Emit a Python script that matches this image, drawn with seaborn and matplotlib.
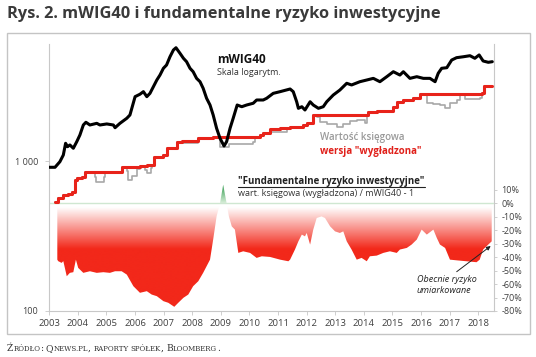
import numpy as np
import pandas as pd
import matplotlib
matplotlib.use("Agg")
import matplotlib.pyplot as plt
import seaborn as sns
from matplotlib.path import Path
from matplotlib.patches import Rectangle
from matplotlib.lines import Line2D
from matplotlib.colors import to_rgb

# ---------------- data ----------------
title = "Rys. 2. mWIG40 i fundamentalne ryzyko inwestycyjne"

wig_years = [2003.00, 2003.20, 2003.37, 2003.49, 2003.57, 2003.64, 2003.72, 2003.84, 2003.96,
             2004.07, 2004.19, 2004.28, 2004.42, 2004.66, 2004.77, 2005.01, 2005.24, 2005.30,
             2005.47, 2005.71, 2005.82, 2006.00, 2006.17, 2006.29, 2006.41, 2006.52, 2006.76,
             2006.87, 2006.99, 2007.10, 2007.22, 2007.34, 2007.43, 2007.57, 2007.69, 2007.80,
             2007.92, 2008.03, 2008.15, 2008.27, 2008.38, 2008.50, 2008.62, 2008.73, 2008.85,
             2008.97, 2009.11, 2009.20, 2009.32, 2009.43, 2009.57, 2009.73, 2009.90, 2010.13,
             2010.25, 2010.48, 2010.60, 2010.83, 2011.07, 2011.42, 2011.53, 2011.65, 2011.71,
             2011.83, 2011.94, 2012.12, 2012.23, 2012.41, 2012.58, 2012.70, 2012.93, 2013.16,
             2013.40, 2013.57, 2013.86, 2014.10, 2014.33, 2014.56, 2014.80, 2015.03, 2015.26,
             2015.38, 2015.61, 2015.85, 2016.08, 2016.31, 2016.49, 2016.60, 2016.72, 2016.90,
             2017.07, 2017.24, 2017.48, 2017.71, 2017.88, 2018.03, 2018.17, 2018.35, 2018.49]
wig_values = [908, 908, 989, 1096, 1312, 1246, 1279, 1216, 1345,
              1490, 1738, 1812, 1738, 1783, 1738, 1766, 1738, 1667,
              1783, 1927, 2027, 2685, 2787, 2899, 2685, 2825, 3467,
              3741, 4150, 4365, 4955, 5495, 5690, 5224, 4839, 4592,
              4150, 3938, 3556, 3378, 3053, 2618, 2362, 2027, 1652,
              1416, 1259, 1345, 1652, 1927, 2362, 2301, 2362, 2426,
              2551, 2551, 2618, 2825, 2899, 3020, 2899, 2483, 2245,
              2301, 2188, 2483, 2362, 2245, 2301, 2483, 2754, 2972,
              3296, 3213, 3378, 3467, 3556, 3378, 3648, 3938, 3741,
              3938, 3556, 3648, 3556, 3556, 3378, 3845, 4150, 4188,
              4710, 4884, 4955, 5035, 4839, 5093, 4642, 4550, 4592]

smooth_years = [2003.20, 2003.31, 2003.49, 2003.66, 2003.78, 2003.90, 2003.96, 2004.13, 2004.25,
                2005.53, 2006.17, 2006.40, 2006.66, 2006.99, 2007.10, 2007.45, 2007.63, 2008.21,
                2008.73, 2010.37, 2010.48, 2010.72, 2011.07, 2011.42, 2011.88, 2012.00, 2012.21,
                2014.15, 2014.45, 2015.03, 2015.15, 2015.38, 2015.73, 2015.96, 2018.12, 2018.20,
                2018.49]
smooth_values = [535, 564, 593, 599, 624, 747, 767, 785, 841,
                 916, 926, 940, 1068, 1096, 1216, 1333, 1359, 1430,
                 1452, 1491, 1530, 1634, 1652, 1693, 1738, 1783, 2027,
                 2112, 2154, 2301, 2483, 2551, 2642, 2787, 2825, 3177,
                 3177]

book_years = [2003.20, 2003.31, 2003.49, 2003.66, 2003.78, 2003.90, 2003.96, 2004.13, 2004.25,
              2004.60, 2004.64, 2004.90, 2004.95, 2005.53, 2005.71, 2005.76, 2005.90, 2006.05,
              2006.17, 2006.35, 2006.40, 2006.55, 2006.60, 2006.66, 2006.99, 2007.10, 2007.45,
              2007.63, 2008.21, 2008.73, 2008.97, 2009.30, 2010.13, 2010.20, 2010.37, 2010.48,
              2010.72, 2011.30, 2011.42, 2011.88, 2012.00, 2012.21, 2012.35, 2012.47, 2012.70,
              2013.05, 2013.28, 2013.51, 2013.75, 2014.04, 2014.10, 2014.15, 2014.45, 2015.03,
              2015.15, 2015.38, 2015.73, 2015.96, 2016.14, 2016.20, 2016.43, 2016.66, 2016.84,
              2017.01, 2017.24, 2017.36, 2017.55, 2018.05, 2018.12, 2018.20, 2018.49]
book_values = [535, 564, 593, 599, 624, 747, 767, 785, 841,
               780, 728, 780, 841, 916, 860, 747, 800, 880,
               926, 870, 828, 900, 940, 1068, 1096, 1216, 1333,
               1312, 1430, 1452, 1246, 1292, 1333, 1452, 1491, 1530,
               1570, 1652, 1693, 1738, 1783, 2027, 1973, 1812, 1757,
               1693, 1757, 1848, 1877, 1783, 2027, 2112, 2154, 2301,
               2483, 2551, 2642, 2787, 2754, 2426, 2389, 2362, 2265,
               2426, 2551, 2787, 2588, 2618, 2825, 3177, 3177]

risk_years = [2003.28, 2003.31, 2003.43, 2003.49, 2003.61, 2003.72, 2003.84, 2003.93, 2004.01,
              2004.19, 2004.42, 2004.66, 2004.89, 2005.12, 2005.30, 2005.53, 2005.71, 2005.94,
              2006.17, 2006.41, 2006.58, 2006.76, 2006.99, 2007.16, 2007.37, 2007.51, 2007.69,
              2007.86, 2008.03, 2008.21, 2008.38, 2008.62, 2008.73, 2008.85, 2008.97, 2009.08,
              2009.20, 2009.28, 2009.38, 2009.49, 2009.61, 2009.78, 2010.02, 2010.25, 2010.43,
              2010.72, 2011.07, 2011.36, 2011.42, 2011.59, 2011.71, 2011.83, 2011.94, 2012.00,
              2012.12, 2012.23, 2012.35, 2012.52, 2012.64, 2012.82, 2012.99, 2013.16, 2013.28,
              2013.40, 2013.57, 2013.75, 2013.92, 2014.10, 2014.21, 2014.45, 2014.68, 2014.91,
              2015.15, 2015.26, 2015.50, 2015.67, 2015.85, 2016.02, 2016.20, 2016.43, 2016.55,
              2016.66, 2016.84, 2017.01, 2017.24, 2017.59, 2017.94, 2018.05, 2018.17, 2018.35,
              2018.47]
risk_pct = [-41.9, -43.0, -44.3, -43.0, -54.2, -51.7, -51.2, -41.9, -48.0,
            -51.7, -50.5, -51.7, -51.2, -51.7, -50.5, -50.5, -53.0, -61.6,
            -66.5, -65.3, -67.8, -69.0, -72.7, -73.9, -76.9, -73.9, -70.2,
            -67.8, -61.6, -57.9, -51.7, -41.9, -27.0, -9.8, 0.0, 13.7,
            0.0, -9.8, -17.2, -19.6, -36.9, -35.7, -36.9, -40.6, -39.4,
            -39.9, -41.9, -43.1, -41.9, -34.4, -28.3, -23.3, -24.6, -22.1,
            -30.7, -19.6, -11.0, -9.8, -11.0, -17.2, -20.9, -22.1, -20.9,
            -28.3, -34.4, -41.9, -40.6, -43.1, -39.4, -38.9, -36.9, -35.7,
            -36.9, -34.4, -33.2, -30.7, -27.0, -19.6, -23.3, -19.6, -25.8,
            -30.7, -33.2, -41.9, -42.4, -43.1, -43.8, -41.9, -34.4, -30.7,
            -28.3]

year_ticks = list(range(2003, 2019))
left_ticks = [100, 1000]
left_labels = ["100", "1 000"]
right_ticks = [-80, -70, -60, -50, -40, -30, -20, -10, 0, 10]

# ---------------- styling ----------------
sns.set_theme(style="white")
plt.rcParams["font.family"] = ["Open Sans", "DejaVu Sans"]

W, H = 536, 357
fig = plt.figure(figsize=(W / 100, H / 100), dpi=100)
fig.patch.set_facecolor("white")


def fx(x):
    return x / W


def fy(y):
    return 1 - y / H


ax_l, ax_r, ax_t, ax_b = 49.3, 494, 44, 311
ax = fig.add_axes([fx(ax_l), fy(ax_b), fx(ax_r - ax_l), (ax_b - ax_t) / H])
ax2 = ax.twinx()
ax.set_zorder(2)
ax2.set_zorder(1)
ax.patch.set_visible(False)

XMIN, XMAX = 2003.0, 2018.55
grey_sp = "#c8c8c8"
tick_col = "#404040"

# ---- risk area (right axis) ----
rx = np.array(risk_years)
ry = np.array(risk_pct) / 100.0
neg = ax2.fill_between(rx, ry, 0, where=ry <= 0, interpolate=True,
                       facecolor="none", edgecolor="none")
pos = ax2.fill_between(rx, 0, ry, where=ry >= 0, interpolate=True,
                       facecolor="none", edgecolor="none")

yy = np.linspace(-0.8, 0, 400)
t = np.clip((yy + 0.34) / 0.31, 0, 1)
red = np.array(to_rgb("#f2281a"))
img = red[None, :] * (1 - t[:, None]) + np.ones(3)[None, :] * t[:, None]
im = ax2.imshow(img[:, None, :], extent=[XMIN, XMAX, -0.8, 0], origin="lower",
                aspect="auto", interpolation="bilinear", zorder=1)
im.set_clip_path(Path.make_compound_path(*neg.get_paths()), ax2.transData)

yg = np.linspace(0, 0.15, 200)
tg = np.clip(yg / 0.13, 0, 1)
g0 = np.array(to_rgb("#d8eed9"))
g1 = np.array(to_rgb("#2f9a4c"))
imgg = g0[None, :] * (1 - tg[:, None]) + g1[None, :] * tg[:, None]
img2 = ax2.imshow(imgg[:, None, :], extent=[XMIN, XMAX, 0, 0.15], origin="lower",
                  aspect="auto", interpolation="bilinear", zorder=1)
img2.set_clip_path(Path.make_compound_path(*pos.get_paths()), ax2.transData)

ax2.axhline(0, color="#cfe7d1", lw=1.0, zorder=3)
ax2.set_xlim(XMIN, XMAX)
ax2.set_ylim(-0.8, 1.181)
ax2.set_yticks([v / 100 for v in right_ticks])
ax2.set_yticklabels([f"{v}%" for v in right_ticks])
ax2.tick_params(axis="y", which="both", right=True, length=2.5, width=0.6, color=grey_sp,
                labelsize=6.5, labelcolor=tick_col, pad=3, direction="out")
for s in ["top", "left", "bottom"]:
    ax2.spines[s].set_visible(False)
ax2.spines["right"].set_color(grey_sp)
ax2.spines["right"].set_linewidth(0.8)
ax2.grid(False)
ax2.set_ylabel("")

# ---- index lines (left log axis) ----
ax.set_yscale("log")
book_df = pd.DataFrame({"year": book_years, "value": book_values})
smooth_df = pd.DataFrame({"year": smooth_years, "value": smooth_values})
wig_df = pd.DataFrame({"year": wig_years, "value": wig_values})
sns.lineplot(data=book_df, x="year", y="value", ax=ax, color="#a8a8a8", linewidth=1.2,
             drawstyle="steps-post", estimator=None, sort=False, zorder=2)
sns.lineplot(data=smooth_df, x="year", y="value", ax=ax, color="#e8231a", linewidth=2.2,
             drawstyle="steps-post", estimator=None, sort=False, zorder=3)
sns.lineplot(data=wig_df, x="year", y="value", ax=ax, color="#000000", linewidth=2.2,
             estimator=None, sort=False, zorder=4)

ax.set_xlim(XMIN, XMAX)
ax.set_ylim(100, 10 ** (3 + 117 / 150))
ax.set_yticks(left_ticks)
ax.set_yticklabels(left_labels)
ax.yaxis.set_minor_locator(matplotlib.ticker.NullLocator())
ax.set_xticks(year_ticks)
ax.set_xticklabels([str(y) for y in year_ticks])
ax.tick_params(axis="y", which="both", left=True, length=3, width=0.6, color=grey_sp,
               labelsize=6.5, labelcolor=tick_col, pad=5)
ax.tick_params(axis="x", bottom=True, length=3, width=0.6, color=grey_sp,
               labelsize=6.8, labelcolor=tick_col, pad=3)
for s in ["top", "right"]:
    ax.spines[s].set_visible(False)
for s in ["left", "bottom"]:
    ax.spines[s].set_color(grey_sp)
    ax.spines[s].set_linewidth(0.8)
ax.grid(False)
ax.set_xlabel("")
ax.set_ylabel("")

# ---------------- texts ----------------
fig.text(fx(7), fy(14), title, fontsize=11.8, fontweight="bold", color="#3a3a3a",
         va="center", ha="left")

fig.text(fx(216.7), fy(59.5), "mWIG40", fontsize=8.5, fontweight="bold", color="#111111",
         va="center", ha="left")
fig.text(fx(216.7), fy(72.7), "Skala logarytm.", fontsize=6.5, color="#333333",
         va="center", ha="left")
fig.text(fx(320), fy(138), "Wartość księgowa", fontsize=7.0, fontweight="semibold",
         color="#9a9a9a", va="center", ha="left")
fig.text(fx(320), fy(151), 'wersja "wygładzona"', fontsize=7.0, fontweight="bold",
         color="#e0201a", va="center", ha="left")
t_head = fig.text(fx(238.3), fy(181.7), '"Fundamentalne ryzyko inwestycyjne"', fontsize=7,
                  fontweight="bold", color="#222222", va="center", ha="left")
fig.text(fx(238.3), fy(193.5), "wart. księgowa (wygładzona) / mWIG40 - 1", fontsize=6.5,
         color="#333333", va="center", ha="left")
fig.text(fx(416.7), fy(279.5), "Obecnie ryzyko", fontsize=6.5, style="italic",
         color="#222222", va="center", ha="left")
fig.text(fx(416.7), fy(290.5), "umiarkowane", fontsize=6.5, style="italic",
         color="#222222", va="center", ha="left")
ax2.annotate("", xy=(fx(490.7), fy(246)), xytext=(fx(456.7), fy(271.7)),
             xycoords="figure fraction", textcoords="figure fraction",
             arrowprops=dict(arrowstyle="-|>", color="#222222", lw=0.7,
                             mutation_scale=6, shrinkA=0, shrinkB=0), zorder=6)

# outer frame
fig.patches.append(Rectangle((fx(7), fy(334)), (530 - 7) / W, (334 - 33) / H,
                             transform=fig.transFigure, fill=False,
                             edgecolor="#c4c4c4", linewidth=1.0))

renderer = fig.canvas.get_renderer()
bb = t_head.get_window_extent(renderer)
fig.lines.append(Line2D([bb.x0 / W, bb.x1 / W], [(bb.y0 + 0.5) / H, (bb.y0 + 0.5) / H],
                        transform=fig.transFigure, color="#222222", lw=0.8))

# source line in small caps
pieces = [("Ź", 6.6, 0), ("RÓDŁO", 5.0, 0), (":", 6.6, 2.5), ("Q", 6.6, 0), ("NEWS.PL", 5.0, 0),
          (",", 6.6, 2.5), ("RAPORTY", 5.0, 2.2), ("SPÓŁEK", 5.0, 0), (",", 6.6, 2.5),
          ("B", 6.6, 0), ("LOOMBERG", 5.0, 0), (".", 6.6, 0)]
xcur = 7.0
for s, fs, gap in pieces:
    tt = fig.text(fx(xcur), fy(351), s, fontsize=fs, family="DejaVu Serif",
                  color="#333333", va="baseline", ha="left")
    xcur += tt.get_window_extent(renderer).width + gap

fig.savefig("out.png", dpi=100, facecolor="white")
